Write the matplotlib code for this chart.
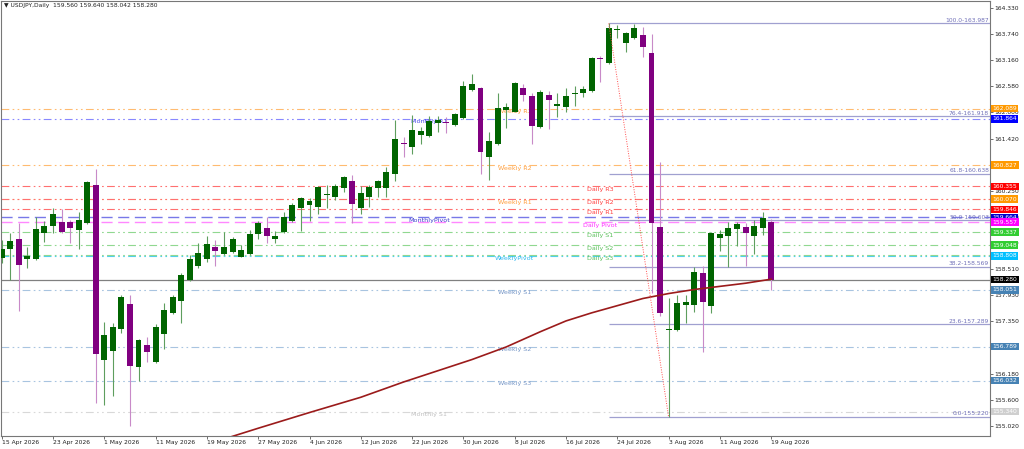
import numpy as np
import matplotlib
matplotlib.use("Agg")
import matplotlib.pyplot as plt
import matplotlib.transforms as mtransforms

plt.rcParams['font.family'] = ['DejaVu Sans']

# ---------------- data ----------------
symbol_header = "USDJPY,Daily  159.560 159.640 158.042 158.280"

opens = [158.754, 158.970, 159.178, 158.739, 158.739, 159.326, 159.467, 159.564, 159.564, 159.385,
         159.534, 160.388, 156.490, 156.690, 157.180, 157.737, 156.341, 156.824, 156.445, 157.062,
         157.529, 157.804, 158.272, 158.591, 158.739, 158.999, 158.851, 158.888, 158.791, 158.843,
         159.296, 159.422, 159.192, 159.341, 159.593, 159.875, 159.942, 159.905, 160.172, 160.113,
         160.328, 160.469, 159.883, 160.128, 160.313, 160.328, 160.625, 161.323, 161.227, 161.494,
         161.479, 161.761, 161.791, 161.724, 161.873, 162.504, 162.541, 161.019, 161.293, 162.058,
         162.021, 162.541, 162.370, 161.672, 162.392, 162.155, 162.118, 162.407, 162.429, 162.481,
         163.209, 163.098, 163.833, 163.558, 163.654, 163.729, 163.320, 159.460, 157.158, 157.158,
         157.715, 157.715, 158.420, 157.693, 159.215, 159.259, 159.408, 159.460, 159.259, 159.437,
         159.560]
highs = [159.163, 159.326, 159.549, 158.999, 159.668, 159.586, 159.868, 159.846, 159.608, 159.794,
         160.484, 160.737, 157.329, 157.307, 157.930, 157.938, 156.950, 156.995, 157.284, 157.767,
         157.938, 158.435, 158.829, 159.088, 159.252, 159.163, 159.348, 159.237, 159.051, 159.385,
         159.586, 159.682, 159.370, 159.794, 159.979, 160.128, 160.106, 160.366, 160.388, 160.410,
         160.588, 160.610, 160.366, 160.388, 160.499, 160.796, 161.835, 161.449, 161.939, 161.687,
         161.925, 161.925, 161.895, 161.999, 162.711, 162.860, 162.578, 161.576, 162.444, 162.207,
         162.689, 162.630, 162.429, 162.504, 162.481, 162.429, 162.556, 162.600, 162.600, 163.231,
         163.268, 163.987, 163.951, 163.803, 163.966, 163.914, 163.751, 160.908, 157.878, 157.938,
         157.938, 158.569, 158.591, 159.334, 159.385, 159.556, 159.571, 159.534, 159.608, 159.794,
         159.640]
lows = [158.643, 158.272, 157.589, 158.546, 158.717, 159.111, 159.311, 159.326, 159.103, 158.962,
        159.519, 155.525, 155.488, 155.696, 157.084, 155.027, 156.030, 156.438, 156.430, 156.727,
        157.514, 157.307, 158.257, 158.532, 158.680, 158.591, 158.829, 158.866, 158.777, 158.829,
        159.177, 159.103, 159.103, 159.326, 159.571, 159.363, 159.593, 159.734, 159.868, 160.054,
        160.239, 159.549, 159.742, 159.905, 160.113, 160.128, 160.484, 161.004, 161.078, 161.301,
        161.464, 161.576, 161.539, 161.709, 161.850, 162.489, 160.633, 160.499, 161.279, 161.665,
        162.006, 162.259, 161.294, 161.665, 161.628, 161.910, 162.006, 162.155, 162.355, 162.467,
        162.689, 163.075, 163.654, 163.358, 163.640, 163.246, 157.975, 157.470, 155.220, 157.136,
        157.307, 157.566, 156.676, 157.544, 158.918, 158.569, 159.029, 158.591, 158.844, 159.274,
        158.042]
closes = [158.955, 159.148, 158.606, 158.814, 159.400, 159.474, 159.749, 159.341, 159.423, 159.608,
          160.447, 156.616, 157.054, 157.232, 157.886, 156.356, 156.935, 156.676, 157.217, 157.603,
          157.900, 158.383, 158.747, 158.866, 159.074, 158.925, 158.999, 159.192, 158.933, 159.304,
          159.534, 159.252, 159.259, 159.667, 159.935, 160.091, 160.039, 160.351, 160.195, 160.373,
          160.558, 159.965, 160.217, 160.351, 160.477, 160.670, 161.412, 161.301, 161.613, 161.591,
          161.813, 161.836, 161.769, 161.962, 162.600, 162.630, 161.130, 161.368, 162.095, 162.132,
          162.652, 162.392, 161.702, 162.467, 162.281, 162.192, 162.378, 162.429, 162.519, 163.209,
          163.187, 163.892, 163.862, 163.766, 163.877, 163.454, 159.534, 157.545, 157.173, 157.752,
          157.789, 158.457, 157.789, 159.311, 159.296, 159.437, 159.519, 159.326, 159.474, 159.645,
          158.280]

date_labels = ['15 Apr 2026', '23 Apr 2026', '1 May 2026', '11 May 2026', '19 May 2026', '27 May 2026',
               '4 Jun 2026', '12 Jun 2026', '22 Jun 2026', '30 Jun 2026', '8 Jul 2026', '16 Jul 2026',
               '24 Jul 2026', '3 Aug 2026', '11 Aug 2026', '19 Aug 2026']
date_bars = [0, 6, 12, 18, 24, 30, 36, 42, 48, 54, 60, 66, 72, 78, 84, 90]

price_tick_labels = ['164.330', '163.740', '163.160', '162.580', '162.000', '161.420', '160.840',
                     '160.250', '159.670', '159.090', '158.510', '157.930', '157.350', '156.770',
                     '156.180', '155.600', '155.020']

# moving average (at selected bars)
ma_bars = [26, 30, 36, 42, 47, 51, 55, 59, 63, 66, 69, 72, 75, 78, 81, 84, 87, 90]
ma_vals = [154.73, 154.97, 155.32, 155.66, 156.00, 156.25, 156.50, 156.78, 157.12, 157.36,
           157.54, 157.70, 157.86, 157.97, 158.06, 158.13, 158.20, 158.29]

# pivot levels
pivot_names = ['Weekly R3', 'Monthly R1', 'Weekly R2', 'Daily R3', 'Weekly R1', 'Daily R2',
               'Daily R1', 'MonthlyPivot', 'Daily Pivot', 'Daily S1', 'Daily S2', 'WeeklyPivot',
               'Daily S3', 'Weekly S1', 'Weekly S2', 'Weekly S3', 'Monthly S1']
pivot_values = [162.089, 161.864, 160.827, 160.355, 160.070, 160.070, 159.846, 159.664, 159.557,
                159.337, 159.048, 158.808, 158.820, 158.051, 156.789, 156.032, 155.340]

# fibonacci retracement
fib_levels = [100.0, 76.4, 61.8, 50.0, 38.2, 23.6, 0.0]
fib_high = 163.987
fib_low = 155.220
fib_high_bar = 71
fib_low_bar = 78

current_price = 158.280

# ---------------- styles ----------------
W, H = 1024, 449
fig = plt.figure(figsize=(W / 100, H / 100), dpi=100)
left_px, right_px, top_px, bot_px = 1, 990, 1, 436
ax = fig.add_axes([left_px / W, (H - bot_px) / H, (right_px - left_px) / W, (bot_px - top_px) / H])

bar_px = 8.55
x0_px = 1.7
xmin = (left_px - x0_px) / bar_px
xmax = (right_px - x0_px) / bar_px
y_per_px = 0.022273
ytop = 164.330 + 7 * y_per_px
ybot = 164.330 - 428 * y_per_px
ax.set_xlim(xmin, xmax)
ax.set_ylim(ybot, ytop)

def style_for(name):
    if name.startswith('Daily R'):
        return dict(lc='#FF7070', tc='#FF4040', ls='dd', box='#FF0000')
    if name.startswith('Daily S'):
        return dict(lc='#90D890', tc='#5CC05C', ls='dd', box='#32CD32')
    if name == 'Daily Pivot':
        return dict(lc='#FF88FF', tc='#FF30FF', ls='dash', box='#FF00FF')
    if name.startswith('Weekly R'):
        return dict(lc='#FFBB70', tc='#FFA040', ls='dd', box='#FF9900')
    if name.startswith('Weekly S'):
        return dict(lc='#A8C4E0', tc='#7898C8', ls='dd', box='#4682B4')
    if name == 'WeeklyPivot':
        return dict(lc='#50D0F0', tc='#30B8F0', ls='dd', box='#00BFFF')
    if name == 'Monthly R1':
        return dict(lc='#8888FF', tc='#4848E8', ls='dd', box='#0000FF')
    if name == 'MonthlyPivot':
        return dict(lc='#7878E8', tc='#4040D0', ls='dash', box='#0000CD')
    return dict(lc='#D8D8D8', tc='#C0C0C0', ls='dd', box='#CFCFCF')

label_center_bar = {'Daily': 70.0, 'Weekly': 60.0, 'Monthly': 50.0}
hidden_boxes = {'Daily R2', 'Daily S3'}

x_idx = np.arange(len(opens))
trans_box = mtransforms.blended_transform_factory(ax.transAxes, ax.transData)

# pivot lines and texts
for name, val in zip(pivot_names, pivot_values):
    st = style_for(name)
    if st['ls'] == 'dd':
        ls = (0, (7, 3, 1.5, 3, 1.5, 3))
        lw = 0.8
    else:
        ls = (0, (8, 4))
        lw = 1.0
    ax.axhline(val, color=st['lc'], lw=lw, ls=ls, zorder=1)
    key = 'Daily' if name.startswith('Daily') else ('Weekly' if name.startswith('Weekly') else 'Monthly')
    ax.text(label_center_bar[key], val - 0.5 * y_per_px, name, color=st['tc'], fontsize=4.6,
            ha='center', va='top', zorder=1.5)

# fib lines
for lev in fib_levels:
    price = fib_low + (fib_high - fib_low) * lev / 100.0
    ax.plot([fib_high_bar, xmax], [price, price], color='#A0A0D0', lw=0.9, zorder=1.2, solid_capstyle='butt')
    ax.text(xmax - 0.1, price + 0.6 * y_per_px, f"{lev:.1f}-{price:.3f}", color='#7070B8',
            fontsize=4.3, ha='right', va='bottom', zorder=1.5)

# current price line
ax.axhline(current_price, color='#808080', lw=0.9, zorder=1.3)

# candles
bull_body, bear_body = '#006400', '#800080'
bull_wick, bear_wick = '#5E9E5E', '#C88AC8'
for i, o, h, l, c in zip(x_idx, opens, highs, lows, closes):
    up = c >= o
    ax.vlines(i, l, h, color=bull_wick if up else bear_wick, lw=0.8, zorder=3)
    lo, hi = min(o, c), max(o, c)
    if hi - lo < 0.6 * y_per_px:
        mid = (hi + lo) / 2
        lo, hi = mid - 0.35 * y_per_px, mid + 0.35 * y_per_px
    ax.bar(i, hi - lo, bottom=lo, width=0.7, color=bull_body if up else bear_body,
           linewidth=0, zorder=3.5)

# moving average
ax.plot(ma_bars, ma_vals, color='#9B1B1B', lw=1.2, zorder=4)

# fib trend line
ax.plot([fib_high_bar, fib_low_bar], [fib_high, fib_low], color='#FF5050', lw=0.7,
        ls=(0, (1, 1.5)), zorder=4)

# axes styling
for sp in ax.spines.values():
    sp.set_color('#777777')
    sp.set_linewidth(0.8)

ax.yaxis.tick_right()
ax.set_yticks(np.linspace(164.330, 155.020, len(price_tick_labels)))
ax.set_yticklabels(price_tick_labels)
ax.tick_params(axis='y', direction='out', length=2.2, width=0.6, colors='#555555',
               labelsize=4.3, labelcolor='#202020', pad=0.8)
ax.set_xticks(date_bars)
ax.set_xticklabels(date_labels, ha='left')
ax.tick_params(axis='x', direction='out', length=2.0, width=0.6, colors='#555555',
               labelsize=4.3, labelcolor='#202020', pad=1.0)

# price boxes on the right axis
box_names = [n for n in pivot_names if n not in hidden_boxes]
for name in box_names:
    val = pivot_values[pivot_names.index(name)]
    st = style_for(name)
    ax.text(1.0025, val, f"{val:.3f}", transform=trans_box, fontsize=4.3, color='white',
            ha='left', va='center', clip_on=False, zorder=6,
            bbox=dict(boxstyle='square,pad=0.22', fc=st['box'], ec='none'))
ax.text(1.0025, current_price, f"{current_price:.3f}", transform=trans_box, fontsize=4.3,
        color='white', ha='left', va='center', clip_on=False, zorder=6,
        bbox=dict(boxstyle='square,pad=0.22', fc='#000000', ec='none'))

# header
ax.text(0.003, 0.995, "\u25BC " + symbol_header, transform=ax.transAxes, fontsize=4.3,
        color='#202020', ha='left', va='top', zorder=7)

fig.savefig('out.png', dpi=100)
